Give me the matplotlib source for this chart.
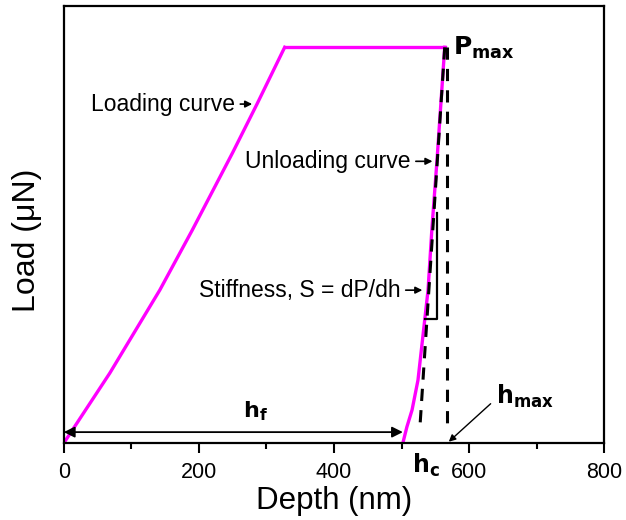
import matplotlib.pyplot as plt
import numpy as np

plt.rcParams['font.family'] = ['Liberation Sans', 'DejaVu Sans']

# loading curve (depth nm, load a.u.)
load_h = [0, 68, 142, 190, 250, 286, 327]
load_p = [0.0, 0.160, 0.350, 0.487, 0.665, 0.776, 0.906]

# hold at max load
hold_h = [327, 564]
hold_p = [0.906, 0.906]

# unloading curve
unload_h = [564, 552.6, 545, 539.3, 531, 524.4, 515.6, 508, 502]
unload_p = [0.906, 0.648, 0.49, 0.350, 0.235, 0.144, 0.0755, 0.037, 0.0]

# tangent (stiffness) line and h_max line
tan_h = [564, 527]
tan_p = [0.906, 0.03]
hmax_h = [567, 567]
hmax_p = [0.906, 0.03]

fig = plt.figure(figsize=(6.26, 5.2), dpi=100)
ax = fig.add_axes([0.102, 0.148, 0.863, 0.840])

ax.plot(load_h, load_p, color='#ff00ff', lw=2.4, solid_joinstyle='round')
ax.plot(hold_h, hold_p, color='#ff00ff', lw=2.4)
ax.plot(unload_h, unload_p, color='#ff00ff', lw=2.4, solid_joinstyle='round')
ax.plot(tan_h, tan_p, color='black', lw=2.2, ls=(0, (4, 3)))
ax.plot(hmax_h, hmax_p, color='black', lw=2.2, ls=(0, (4, 3)))

# stiffness triangle
ax.plot([534.8, 552.6, 552.6], [0.284, 0.284, 0.526], color='black', lw=1.6)

ax.set_xlim(0, 800)
ax.set_ylim(0, 1.0)
ax.set_xticks([0, 200, 400, 600, 800])
ax.set_xticks([100, 300, 500, 700], minor=True)
ax.set_yticks([])
ax.tick_params(axis='x', which='major', direction='out', length=7, width=1.5,
               labelsize=15.5, pad=7)
ax.tick_params(axis='x', which='minor', direction='out', length=4, width=1.5)
for s in ax.spines.values():
    s.set_linewidth(1.6)

ax.set_xlabel('Depth (nm)', fontsize=22.5, labelpad=2)
ax.set_ylabel('Load (\u03bcN)', fontsize=23, labelpad=10)
ax.yaxis.set_label_coords(-0.04, 0.465)

arr = dict(arrowstyle='-|>', color='black', lw=1.2, mutation_scale=10)
ax.annotate('Loading curve', xy=(283, 0.776), xytext=(253, 0.776),
            fontsize=16.5, ha='right', va='center', arrowprops=arr)
ax.annotate('Unloading curve', xy=(550, 0.645), xytext=(513, 0.645),
            fontsize=16.5, ha='right', va='center', arrowprops=arr)
ax.annotate('Stiffness, S = dP/dh', xy=(535, 0.35), xytext=(498, 0.35),
            fontsize=16.5, ha='right', va='center', arrowprops=arr)

# h_f double arrow
ax.annotate('', xy=(0, 0.025), xytext=(502, 0.025),
            arrowprops=dict(arrowstyle='<|-|>', color='black', lw=1.3,
                            mutation_scale=16, shrinkA=0, shrinkB=0))
ax.text(283, 0.045, r'$\mathbf{h_f}$', fontsize=16, ha='center', va='bottom')

ax.text(577, 0.905, r'$\mathbf{P_{max}}$', fontsize=18, ha='left', va='center')
ax.annotate('', xy=(570, 0.003), xytext=(632, 0.09),
            arrowprops=dict(arrowstyle='-|>', color='black', lw=1.0, mutation_scale=10,
                            shrinkA=0, shrinkB=0))
ax.text(640, 0.075, r'$\mathbf{h_{max}}$', fontsize=17, ha='left', va='bottom')
ax.text(536, -0.02, r'$\mathbf{h_c}$', fontsize=17, ha='center', va='top', clip_on=False)

fig.savefig('out.png', dpi=100)
